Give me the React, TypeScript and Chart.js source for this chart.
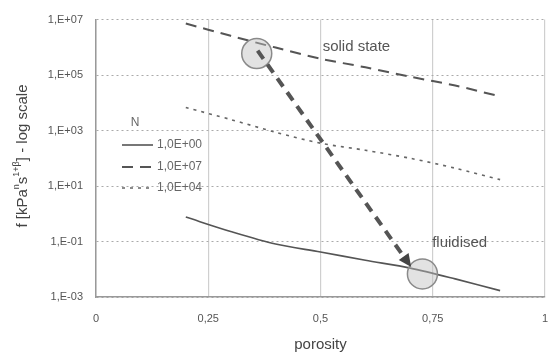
import React, { useEffect, useRef } from "react";
import { Chart, registerables } from "chart.js";
Chart.register(...registerables);

const porosity = [0.2, 0.3, 0.4, 0.5, 0.6, 0.7, 0.8, 0.9];
const fN1E00 = [0.76, 0.23, 0.081, 0.042, 0.021, 0.011, 0.0045, 0.0017];
const fN1E07 = [7.2e6, 2.6e6, 9.8e5, 3.9e5, 1.9e5, 8.7e4, 4.2e4, 1.7e4];
const fN1E04 = [6.8e3, 2.5e3, 8.7e2, 3.5e2, 1.95e2, 1.0e2, 44, 17];
const seriesLabels = ["1,0E+00", "1,0E+07", "1,0E+04"];
const legendTitle = "N";
const xTicks = [0, 0.25, 0.5, 0.75, 1];
const xTickLabels = ["0", "0,25", "0,5", "0,75", "1"];
const yTicks = [1e-3, 1e-1, 1e1, 1e3, 1e5, 1e7];
const yTickLabels = ["1,E-03", "1,E-01", "1,E+01", "1,E+03", "1,E+05", "1,E+07"];
const xTitle = "porosity";
const arrowFrom = { x: 0.36, y: 7.6e5 };
const arrowTo = { x: 0.702, y: 0.012 };
const circleAt = [
  { x: 0.358, y: 6e5 },
  { x: 0.727, y: 0.0068 },
];
const notes = [
  { text: "solid state", x: 0.58, y: 1.07e6 },
  { text: "fluidised", x: 0.81, y: 0.087 },
];

const FONT = "'Liberation Sans', Arial, sans-serif";

const overlay = {
  id: "overlay",
  afterDatasetsDraw(chart: any) {
    const { ctx, scales } = chart;
    const xs = scales.x, ys = scales.y;
    const px = (v: number) => xs.getPixelForValue(v);
    const py = (v: number) => ys.getPixelForValue(v);
    ctx.save();
    // circles
    circleAt.forEach((c) => {
      ctx.beginPath();
      ctx.arc(px(c.x), py(c.y), 15, 0, Math.PI * 2);
      ctx.fillStyle = "rgba(190,190,190,0.45)";
      ctx.fill();
      ctx.lineWidth = 1.5;
      ctx.strokeStyle = "#8a8a8a";
      ctx.stroke();
    });
    // arrow
    const x1 = px(arrowFrom.x), y1 = py(arrowFrom.y);
    const x2 = px(arrowTo.x), y2 = py(arrowTo.y);
    const ang = Math.atan2(y2 - y1, x2 - x1);
    const headLen = 13, headW = 6;
    const bx = x2 - headLen * Math.cos(ang), by = y2 - headLen * Math.sin(ang);
    ctx.beginPath();
    ctx.setLineDash([10, 7]);
    ctx.lineWidth = 4;
    ctx.strokeStyle = "#555";
    ctx.moveTo(x1, y1);
    ctx.lineTo(bx, by);
    ctx.stroke();
    ctx.setLineDash([]);
    ctx.beginPath();
    ctx.moveTo(x2, y2);
    ctx.lineTo(bx + headW * Math.sin(ang), by - headW * Math.cos(ang));
    ctx.lineTo(bx - headW * Math.sin(ang), by + headW * Math.cos(ang));
    ctx.closePath();
    ctx.fillStyle = "#444";
    ctx.fill();
    // notes
    ctx.fillStyle = "#555";
    ctx.font = `15px ${FONT}`;
    ctx.textAlign = "center";
    ctx.textBaseline = "middle";
    notes.forEach((n) => ctx.fillText(n.text, px(n.x), py(n.y)));
    // x title
    ctx.fillStyle = "#444";
    ctx.font = `15px ${FONT}`;
    ctx.fillText(xTitle, (xs.left + xs.right) / 2, 345);
    // legend
    const lx0 = xs.left + 26, lx1 = xs.left + 57, tx = xs.left + 61;
    const rows = [145, 167, 188];
    ctx.font = `12px ${FONT}`;
    ctx.fillStyle = "#666";
    ctx.textAlign = "center";
    ctx.fillText(legendTitle, xs.left + 39, 123);
    chart.data.datasets.forEach((ds: any, i: number) => {
      const yy = rows[i];
      ctx.beginPath();
      ctx.setLineDash(ds.borderDash || []);
      ctx.lineWidth = ds.borderWidth;
      ctx.strokeStyle = ds.borderColor;
      ctx.moveTo(lx0, yy);
      ctx.lineTo(lx1, yy);
      ctx.stroke();
      ctx.setLineDash([]);
      ctx.textAlign = "left";
      ctx.fillStyle = "#666";
      ctx.fillText(ds.label, tx, yy);
    });
    // y title with superscripts
    const parts = [
      { t: "f [kPa", s: false },
      { t: "n", s: true },
      { t: "s", s: false },
      { t: "1+\u03B2", s: true },
      { t: "] - log scale", s: false },
    ];
    const big = `15px ${FONT}`, small = `9px ${FONT}`;
    let total = 0;
    parts.forEach((p) => {
      ctx.font = p.s ? small : big;
      total += ctx.measureText(p.t).width;
    });
    ctx.translate(23, 156);
    ctx.rotate(-Math.PI / 2);
    let cx = -total / 2;
    ctx.textAlign = "left";
    ctx.fillStyle = "#444";
    parts.forEach((p) => {
      ctx.font = p.s ? small : big;
      ctx.textBaseline = "middle";
      ctx.fillText(p.t, cx, p.s ? -6 : 0);
      cx += ctx.measureText(p.t).width;
    });
    ctx.restore();
  },
};

export default function App() {
  const ref = useRef<HTMLCanvasElement>(null);
  useEffect(() => {
    const chart = new Chart(ref.current!, {
      type: "line",
      data: {
        datasets: [
          {
            label: seriesLabels[0],
            data: porosity.map((x, i) => ({ x, y: fN1E00[i] })),
            borderColor: "#555",
            borderWidth: 1.6,
            pointRadius: 0,
            tension: 0.3,
          },
          {
            label: seriesLabels[1],
            data: porosity.map((x, i) => ({ x, y: fN1E07[i] })),
            borderColor: "#555",
            borderWidth: 2,
            borderDash: [11, 7],
            pointRadius: 0,
            tension: 0.3,
          },
          {
            label: seriesLabels[2],
            data: porosity.map((x, i) => ({ x, y: fN1E04[i] })),
            borderColor: "#666",
            borderWidth: 1.6,
            borderDash: [3, 5],
            pointRadius: 0,
            tension: 0.3,
          },
        ],
      },
      options: {
        animation: false,
        responsive: false,
        layout: { padding: { left: 0, top: 19, right: 5, bottom: 0 } },
        plugins: { legend: { display: false }, tooltip: { enabled: false } },
        scales: {
          x: {
            type: "linear",
            min: 0,
            max: 1,
            afterBuildTicks: (s: any) => {
              s.ticks = xTicks.map((v) => ({ value: v }));
            },
            afterFit: (s: any) => {
              s.height = 57;
              s.paddingLeft = 0;
              s.paddingRight = 0;
            },
            ticks: {
              callback: (v: any) => xTickLabels[xTicks.indexOf(Number(v))] ?? "",
              color: "#555",
              font: { family: FONT, size: 11 },
              padding: 15,
              maxRotation: 0,
            },
            grid: { color: "#cfcfcf", lineWidth: 1.2, drawTicks: false },
            border: { color: "#999", width: 1.5 },
            title: { display: false },
          },
          y: {
            type: "logarithmic",
            min: 1e-3,
            max: 1e7,
            afterBuildTicks: (s: any) => {
              s.ticks = yTicks.map((v) => ({ value: v }));
            },
            afterFit: (s: any) => {
              s.width = 96;
            },
            ticks: {
              callback: (v: any) => {
                const i = yTicks.findIndex((t) => Math.abs(Math.log10(t) - Math.log10(Number(v))) < 1e-6);
                return i >= 0 ? yTickLabels[i] : "";
              },
              color: "#555",
              font: { family: FONT, size: 11 },
              padding: 13,
            },
            grid: { color: "#aaa", lineWidth: 1, drawTicks: false },
            border: { color: "#999", width: 1.5, dash: [2, 3] },
          },
        },
      },
      plugins: [overlay],
    } as any);
    return () => chart.destroy();
  }, []);
  return (
    <div style={{ position: "fixed", left: 0, top: 0, width: 550, height: 354, background: "#fff" }}>
      <canvas ref={ref} width={550} height={354} />
    </div>
  );
}
